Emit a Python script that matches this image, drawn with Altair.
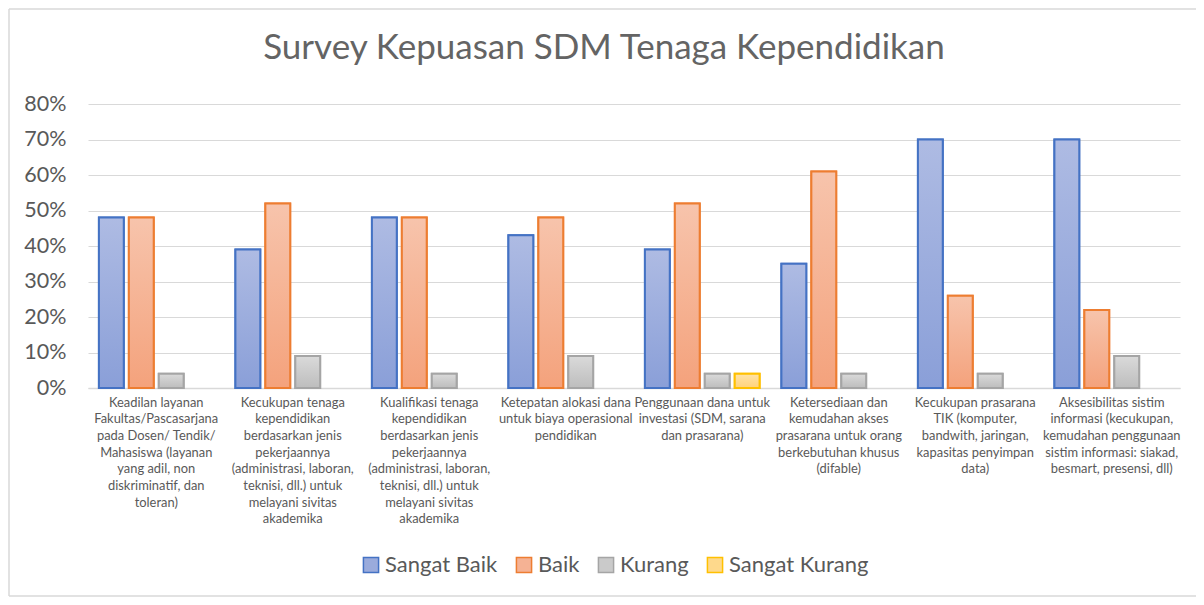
import altair as alt
import pandas as pd

categories = [
    "Keadilan layanan|Fakultas/Pascasarjana|pada Dosen/ Tendik/|Mahasiswa (layanan|yang adil, non|diskriminatif, dan|toleran)",
    "Kecukupan tenaga|kependidikan|berdasarkan jenis|pekerjaannya|(administrasi, laboran,|teknisi, dll.) untuk|melayani sivitas|akademika",
    "Kualifikasi tenaga|kependidikan|berdasarkan jenis|pekerjaannya|(administrasi, laboran,|teknisi, dll.) untuk|melayani sivitas|akademika ",
    "Ketepatan alokasi dana|untuk biaya operasional|pendidikan",
    "Penggunaan dana untuk|investasi (SDM, sarana|dan prasarana)",
    "Ketersediaan dan|kemudahan akses|prasarana untuk orang|berkebutuhan khusus|(difable)",
    "Kecukupan prasarana|TIK (komputer,|bandwith, jaringan,|kapasitas penyimpan|data)",
    "Aksesibilitas sistim|informasi (kecukupan,|kemudahan penggunaan|sistim informasi: siakad,|besmart, presensi, dll)",
]
series = ["Sangat Baik", "Baik", "Kurang", "Sangat Kurang"]
sangat_baik = [48, 39, 48, 43, 39, 35, 70, 70]
baik = [48, 52, 48, 48, 52, 61, 26, 22]
kurang = [4, 9, 4, 9, 4, 4, 4, 9]
sangat_kurang = [0, 0, 0, 0, 4, 0, 0, 0]
title_text = "Survey Kepuasan SDM Tenaga Kependidikan"

stroke_colors = ["#4472c4", "#ed7d31", "#a5a5a5", "#ffc000"]
fill_colors = ["#9aabdc", "#f5b294", "#cacaca", "#fed98c"]
grad_top = ["#aebbe3", "#f7c4ac", "#dadada", "#ffe3a8"]
grad_bot = ["#8a9fd8", "#f4a27c", "#bdbdbd", "#ffd27a"]

rows = []
for s, vals in zip(series, [sangat_baik, baik, kurang, sangat_kurang]):
    for c, v in zip(categories, vals):
        if v > 0:
            rows.append({"cat": c, "series": s, "value": v / 100.0})
df = pd.DataFrame(rows)

FONT = "Lato"
GRAY = "#595959"

x_enc = alt.X(
    "cat:N",
    scale=alt.Scale(domain=categories, paddingInner=0.16, paddingOuter=0.08),
    axis=alt.Axis(
        title=None,
        labelExpr="split(datum.label, '|')",
        labelAngle=0,
        labelAlign="center",
        labelBaseline="top",
        labelFontSize=12.9,
        labelLineHeight=16.7,
        labelColor=GRAY,
        labelFont=FONT,
        labelPadding=8,
        labelLimit=0,
        ticks=False,
        domain=True,
        domainColor="#d9d9d9",
        domainWidth=1.5,
        grid=False,
    ),
)
y_enc = alt.Y(
    "value:Q",
    scale=alt.Scale(domain=[0, 0.8], nice=False),
    axis=alt.Axis(
        title=None,
        format=".0%",
        values=[0, 0.1, 0.2, 0.3, 0.4, 0.5, 0.6, 0.7, 0.8],
        labelFontSize=21.5,
        labelColor=GRAY,
        labelFont=FONT,
        labelPadding=22,
        ticks=False,
        domain=False,
        grid=True,
        gridColor="#d9d9d9",
        gridWidth=1.2,
    ),
)
xoff = alt.XOffset(
    "series:N",
    scale=alt.Scale(domain=series, paddingInner=0.17, paddingOuter=0.0),
)

base = alt.Chart(df).mark_bar(strokeWidth=2).encode(
    x=x_enc,
    y=y_enc,
    xOffset=xoff,
    fill=alt.Fill(
        "series:N",
        scale=alt.Scale(domain=series, range=fill_colors),
        legend=alt.Legend(
            title=None,
            orient="none",
            legendX=272,
            legendY=450,
            direction="horizontal",
            symbolType="square",
            symbolSize=230,
            symbolStrokeWidth=1.5,
            labelFontSize=22,
            labelColor=GRAY,
            labelFont=FONT,
            columnPadding=15,
            labelOffset=3,
        ),
    ),
    stroke=alt.Stroke("series:N", scale=alt.Scale(domain=series, range=stroke_colors)),
)

layers = [base]
for i, s in enumerate(series):
    grad = alt.Gradient(
        gradient="linear",
        stops=[
            alt.GradientStop(color=grad_top[i], offset=0),
            alt.GradientStop(color=grad_bot[i], offset=1),
        ],
        x1=0, x2=0, y1=0, y2=1,
    )
    layers.append(
        alt.Chart(df)
        .transform_filter(alt.datum.series == s)
        .mark_bar(fill=grad, stroke=stroke_colors[i], strokeWidth=2)
        .encode(x=x_enc, y=y_enc, xOffset=xoff)
    )

deco = pd.DataFrame({"t": [title_text]})
bstyle = dict(color="#d9d9d9", strokeWidth=1.5)
border = [
    alt.Chart(deco).mark_rule(**bstyle).encode(
        x=alt.value(-79), x2=alt.value(1110), y=alt.value(-95)),
    alt.Chart(deco).mark_rule(**bstyle).encode(
        x=alt.value(-79), x2=alt.value(1110), y=alt.value(492)),
    alt.Chart(deco).mark_rule(**bstyle).encode(
        x=alt.value(-79), y=alt.value(-95), y2=alt.value(492)),
]
title = alt.Chart(deco).mark_text(
    fontSize=35, font=FONT, color="#646464", align="center", baseline="middle"
).encode(text="t:N", x=alt.value(516), y=alt.value(-56))

chart = (
    alt.layer(*border, title, *layers)
    .properties(
        width=1092,
        height=284,
        autosize=alt.AutoSizeParams(type="none"),
        padding={"left": 80, "top": 96, "right": 16, "bottom": 209},
    )
    .configure_view(stroke=None)
)

chart.save("out.html", embed_options={"renderer": "svg", "actions": False})
